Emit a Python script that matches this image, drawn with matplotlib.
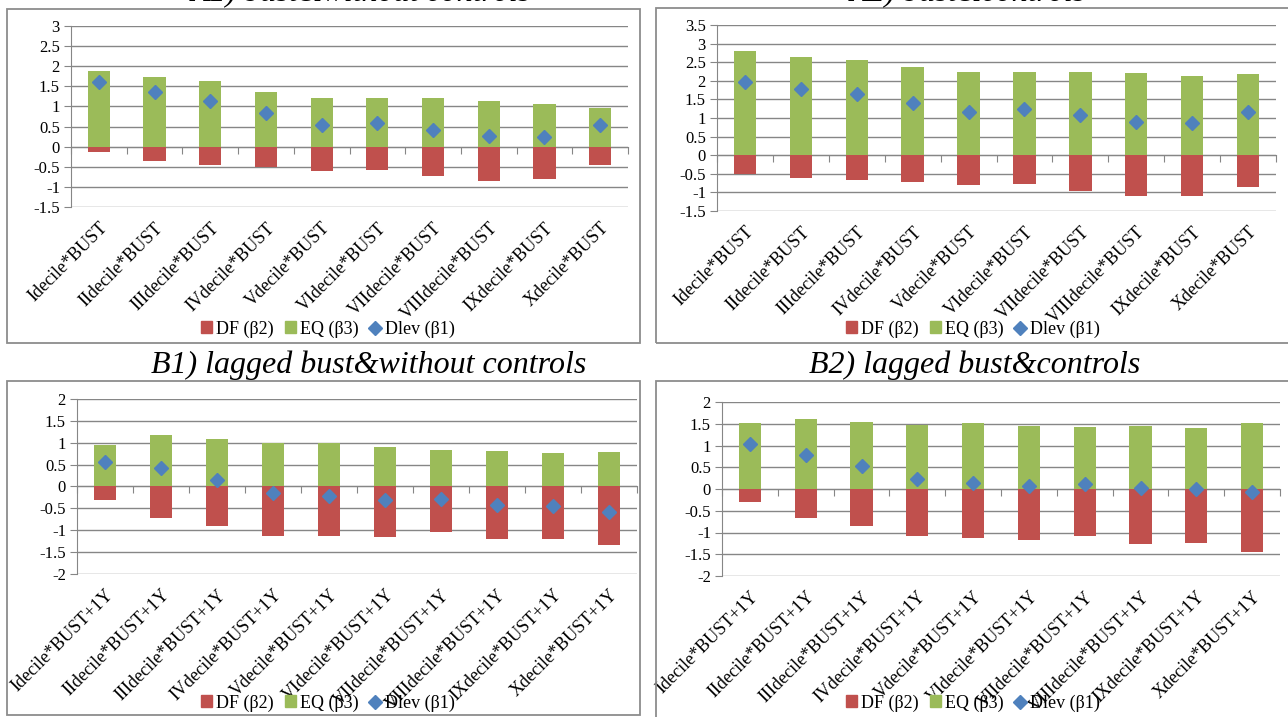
import matplotlib
matplotlib.use('Agg')

import numpy as np
import matplotlib.pyplot as plt
from matplotlib.patches import Patch, Rectangle
from matplotlib.lines import Line2D

plt.rcParams['font.family'] = ['Liberation Serif', 'DejaVu Serif']
plt.rcParams['axes.unicode_minus'] = False

# decile interaction terms
deciles = ['I', 'II', 'III', 'IV', 'V', 'VI', 'VII', 'VIII', 'IX', 'X']
labels_bust = [d + 'decile*BUST' for d in deciles]
labels_lag = [d + 'decile*BUST+1Y' for d in deciles]

# A1) bust, without controls
df_a1 = [-0.13, -0.36, -0.45, -0.51, -0.61, -0.58, -0.74, -0.85, -0.80, -0.46]
eq_a1 = [1.88, 1.74, 1.63, 1.36, 1.20, 1.21, 1.20, 1.14, 1.05, 0.95]
dlev_a1 = [1.62, 1.35, 1.13, 0.83, 0.53, 0.59, 0.42, 0.27, 0.23, 0.55]

# A2) bust, controls
df_a2 = [-0.50, -0.60, -0.68, -0.73, -0.81, -0.78, -0.95, -1.09, -1.09, -0.86]
eq_a2 = [2.79, 2.63, 2.55, 2.37, 2.23, 2.25, 2.25, 2.22, 2.14, 2.17]
dlev_a2 = [1.98, 1.78, 1.65, 1.41, 1.17, 1.23, 1.08, 0.90, 0.86, 1.17]

# B1) lagged bust, without controls
df_b1 = [-0.32, -0.72, -0.91, -1.12, -1.12, -1.15, -1.05, -1.20, -1.19, -1.34]
eq_b1 = [0.95, 1.18, 1.08, 1.00, 1.00, 0.90, 0.84, 0.82, 0.76, 0.78]
dlev_b1 = [0.56, 0.42, 0.14, -0.15, -0.22, -0.31, -0.28, -0.43, -0.44, -0.58]

# B2) lagged bust, controls
df_b2 = [-0.31, -0.67, -0.85, -1.09, -1.13, -1.17, -1.09, -1.26, -1.25, -1.45]
eq_b2 = [1.51, 1.61, 1.54, 1.47, 1.51, 1.44, 1.42, 1.44, 1.40, 1.51]
dlev_b2 = [1.03, 0.79, 0.53, 0.22, 0.13, 0.07, 0.11, 0.02, 0.00, -0.08]

RED = '#C0504D'
GREEN = '#9BBB59'
BLUE = '#4F81BD'
GRID = '#868686'
FRAME = '#8C8C8C'

W, H = 1288, 717
fig = plt.figure(figsize=(W / 100, H / 100), dpi=100)


def add_axes_px(left, top, right, bottom):
    return fig.add_axes([left / W, 1 - bottom / H, (right - left) / W, (bottom - top) / H])


def frame_px(left, top, right, bottom):
    fig.patches.append(Rectangle((left / W, 1 - bottom / H), (right - left) / W, (bottom - top) / H,
                                 transform=fig.transFigure, fill=False, edgecolor=FRAME, lw=1.3))


def panel(ax, cats, df, eq, dlev, ymin, ymax, legend_xy):
    x = np.arange(len(cats))
    ax.bar(x, eq, width=0.4, color=GREEN, zorder=2)
    ax.bar(x, df, width=0.4, color=RED, zorder=2)
    ax.plot(x, dlev, 'D', color=BLUE, ms=7.5, mec=BLUE, zorder=3)

    ax.set_xlim(-0.5, len(cats) - 0.5)
    ax.set_ylim(ymin, ymax)
    ax.set_yticks(np.arange(ymin, ymax + 0.01, 0.5))
    ax.yaxis.set_major_formatter(matplotlib.ticker.FuncFormatter(lambda v, p: '%g' % round(v, 2)))
    ax.grid(axis='y', color=GRID, lw=1.0, zorder=0)
    ax.set_axisbelow(True)
    for s in ['top', 'right', 'bottom']:
        ax.spines[s].set_visible(False)
    ax.spines['left'].set_color(GRID)
    ax.tick_params(axis='y', length=5, color=GRID, labelsize=12, pad=3)

    ax.set_xticks(x, cats, rotation=45, ha='right', rotation_mode='anchor', fontsize=13)
    ax.tick_params(axis='x', length=0, pad=9)

    # category axis crossing at zero
    zero = ax.secondary_xaxis(0, transform=ax.transData)
    zero.set_xticks(np.arange(-0.5, len(cats), 1.0))
    zero.tick_params(length=5, color=GRID, labelbottom=False)
    zero.spines['bottom'].set_color(GRID)

    handles = [Patch(color=RED), Patch(color=GREEN),
               Line2D([], [], ls='none', marker='D', color=BLUE, ms=7)]
    fig.legend(handles, ['DF (\u03b22)', 'EQ (\u03b23)', 'Dlev (\u03b21)'],
               loc='center', bbox_to_anchor=(legend_xy[0] / W, 1 - legend_xy[1] / H),
               ncol=3, frameon=False, fontsize=13, handlelength=0.6, handleheight=0.6,
               handletextpad=0.25, columnspacing=0.6)


frame_px(7, 9, 640, 343)
frame_px(656, 8, 1300, 343)
frame_px(7, 381, 640, 715)
frame_px(656, 381, 1300, 730)

ax_a1 = add_axes_px(71, 26, 628, 207)
panel(ax_a1, labels_bust, df_a1, eq_a1, dlev_a1, -1.5, 3.0, (328, 329))
ax_a2 = add_axes_px(717, 25, 1276, 211)
panel(ax_a2, labels_bust, df_a2, eq_a2, dlev_a2, -1.5, 3.5, (973, 329))
ax_b1 = add_axes_px(77, 399, 637, 574)
panel(ax_b1, labels_lag, df_b1, eq_b1, dlev_b1, -2.0, 2.0, (328, 703))
ax_b2 = add_axes_px(722, 402, 1280, 576)
panel(ax_b2, labels_lag, df_b2, eq_b2, dlev_b2, -2.0, 2.0, (973, 703))

# panel titles
title_kw = dict(fontsize=23, style='italic', ha='center', va='baseline')
fig.text(361 / W, 1 - 1.5 / H, 'A1) bust&without controls', **title_kw)
fig.text(968 / W, 1 - 1.5 / H, 'A2) bust&controls', **title_kw)
fig.text(369 / W, 1 - 373 / H, 'B1) lagged bust&without controls', **title_kw)
fig.text(975 / W, 1 - 373 / H, 'B2) lagged bust&controls', **title_kw)

fig.savefig('out.png', dpi=100)
